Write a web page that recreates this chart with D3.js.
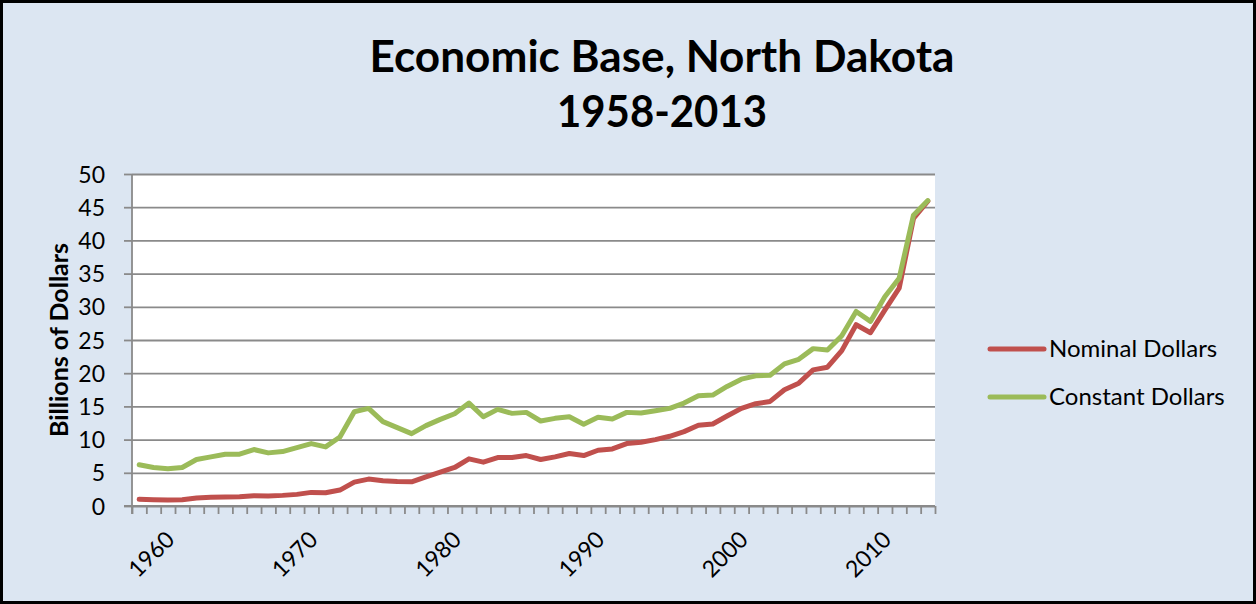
<!DOCTYPE html>
<html><head><meta charset="utf-8">
<script src="https://cdn.jsdelivr.net/npm/d3@7"></script>
<style>
html,body{margin:0;padding:0;background:#fff;}
svg{display:block;}
text{font-family:"Lato","Open Sans",sans-serif;}
</style></head>
<body>
<svg id="chart" width="1256" height="604"></svg>
<script>
const years = d3.range(1958, 2014);
const nominal = [1.0,0.95,0.9,0.95,1.2,1.3,1.35,1.4,1.55,1.5,1.6,1.75,2.05,2.0,2.4,3.6,4.05,3.8,3.7,3.65,
  4.4,5.1,5.8,7.1,6.6,7.3,7.3,7.6,7.0,7.4,7.9,7.6,8.4,8.6,9.4,9.6,10.0,10.5,11.2,12.15,
  12.35,13.55,14.7,15.4,15.75,17.5,18.5,20.5,20.9,23.4,27.3,26.1,29.5,32.8,43.3,45.9];
const constant = [6.2,5.8,5.6,5.8,7.0,7.4,7.8,7.8,8.5,8.0,8.2,8.8,9.4,8.9,10.4,14.2,14.7,12.7,11.8,10.9,
  12.1,13.05,13.9,15.5,13.45,14.55,13.95,14.1,12.8,13.2,13.45,12.3,13.35,13.1,14.1,14.0,14.35,14.7,15.5,16.6,
  16.7,18.0,19.1,19.6,19.7,21.4,22.1,23.7,23.5,25.65,29.3,27.8,31.5,34.3,43.8,46.0];
const yTicks = [0,5,10,15,20,25,30,35,40,45,50];
const xLabels = [1960,1970,1980,1990,2000,2010];
const seriesNames = ["Nominal Dollars","Constant Dollars"];
const seriesColors = ["#C0504D","#9BBB59"];
const titleLines = ["Economic Base, North Dakota","1958-2013"];
const yTitle = "Billions of Dollars";

const svg = d3.select("#chart");
const W = 1256, H = 604;
const L = 132, R = 935, T = 174, B = 506;

svg.append("rect").attr("x",1.5).attr("y",1.5).attr("width",W-3).attr("height",H-3)
  .attr("fill","#DCE6F2").attr("stroke","#000").attr("stroke-width",3);

// title
svg.append("text").attr("x",662).attr("y",72).attr("text-anchor","middle")
  .attr("font-size",44).attr("font-weight","bold").attr("fill","#000")
  .attr("textLength",585).attr("lengthAdjust","spacingAndGlyphs").text(titleLines[0]);
svg.append("text").attr("x",662).attr("y",127).attr("text-anchor","middle")
  .attr("font-size",44).attr("font-weight","bold").attr("fill","#000")
  .attr("textLength",210).attr("lengthAdjust","spacingAndGlyphs").text(titleLines[1]);

const x = d3.scaleBand().domain(years).range([L,R]).padding(0);
const xi = d3.scaleLinear().domain([0,years.length]).range([L,R]);
const y = d3.scaleLinear().domain([0,50]).range([B,T]);
const cx = d => x(d) + x.bandwidth()/2;

svg.append("rect").attr("x",L).attr("y",T).attr("width",R-L).attr("height",B-T).attr("fill","#fff");

// grid
const grid = svg.append("g").attr("transform",`translate(${L},0)`)
  .call(d3.axisLeft(y).tickValues(yTicks).tickSize(-(R-L)).tickFormat(""));
grid.select(".domain").remove();
grid.selectAll("line").attr("stroke","#8A8A8A").attr("stroke-width",1.8);

// y axis
const ya = svg.append("g").attr("transform",`translate(${L},0)`)
  .call(d3.axisLeft(y).tickValues(yTicks).tickSize(8).tickPadding(27));
ya.select(".domain").attr("stroke","#8A8A8A").attr("stroke-width",1.8).attr("d",`M0,${B+8}V${T}`);
ya.selectAll("line").attr("stroke","#8A8A8A").attr("stroke-width",1.8);
ya.selectAll("text").attr("font-size",23).attr("fill","#000").attr("font-family","Lato, sans-serif")
  .attr("dy","0.35em").attr("x",-27);

// x axis ticks
const xa = svg.append("g").attr("transform",`translate(0,${B})`)
  .call(d3.axisBottom(xi).tickValues(d3.range(years.length+1)).tickSize(8).tickFormat(""));
xa.select(".domain").attr("stroke","#8A8A8A").attr("stroke-width",1.8).attr("d",`M${L-8},0H${R}`);
xa.selectAll("line").attr("stroke","#8A8A8A").attr("stroke-width",1.8);

svg.append("g").selectAll("text").data(xLabels).join("text")
  .attr("transform",d=>`translate(${cx(d)+8},${541}) rotate(-45)`)
  .attr("text-anchor","end").attr("font-size",23).attr("fill","#000").text(d=>d);

// y title
svg.append("text").attr("transform","translate(68,340) rotate(-90)")
  .attr("text-anchor","middle").attr("font-size",25).attr("font-weight","bold").text(yTitle);

// lines
const line = d3.line().x((d,i)=>cx(years[i])).y(d=>y(d));
[nominal,constant].forEach((s,k)=>{
  svg.append("path").datum(s).attr("d",line).attr("fill","none")
    .attr("stroke",seriesColors[k]).attr("stroke-width",5)
    .attr("stroke-linejoin","round").attr("stroke-linecap","round");
});

// legend
const lg = svg.append("g");
[349,397].forEach((ly,k)=>{
  lg.append("line").attr("x1",990).attr("x2",1044).attr("y1",ly).attr("y2",ly)
    .attr("stroke",seriesColors[k]).attr("stroke-width",5).attr("stroke-linecap","round");
  lg.append("text").attr("x",1049).attr("y",ly).attr("dy","0.35em").attr("font-size",24)
    .attr("fill","#000").text(seriesNames[k]);
});
</script>
</body></html>
